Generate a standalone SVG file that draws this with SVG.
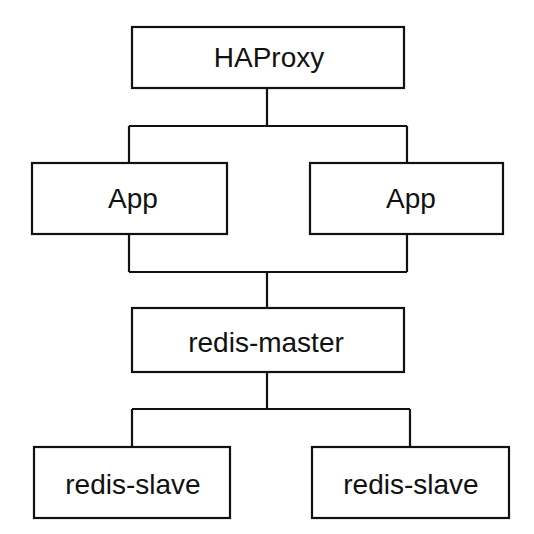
<svg xmlns="http://www.w3.org/2000/svg" width="534" height="534" viewBox="0 0 534 534">
<style>
.box{fill:#fff;stroke:#111;stroke-width:2.2}
.lbl{font-family:"Liberation Sans",Arial,sans-serif;font-size:28px;fill:#111;text-anchor:middle}
.conn{fill:none;stroke:#111;stroke-width:2.2}
</style>
<rect width="534" height="534" fill="#fff"/>
<g id="connectors">
<path class="conn" d="M267 88V126M129 126H407M129 126V163M407 126V163"/>
<path class="conn" d="M129 234V272M407 234V272M129 272H407M267 272V308"/>
<path class="conn" d="M267 372V409M132 409H410M132 409V447M410 409V447"/>
</g>
<g id="haproxy"><rect class="box" x="132" y="27" width="272" height="61"/><text class="lbl" x="269" y="67">HAProxy</text></g>
<g id="app1"><rect class="box" x="32" y="163" width="195" height="71"/><text class="lbl" x="133" y="208">App</text></g>
<g id="app2"><rect class="box" x="310" y="163" width="193" height="71"/><text class="lbl" x="411" y="208">App</text></g>
<g id="redis-master"><rect class="box" x="132" y="308" width="272" height="64"/><text class="lbl" x="266" y="352">redis-master</text></g>
<g id="redis-slave1"><rect class="box" x="34" y="447" width="196" height="71"/><text class="lbl" x="133" y="494">redis-slave</text></g>
<g id="redis-slave2"><rect class="box" x="312" y="447" width="197" height="71"/><text class="lbl" x="411" y="494">redis-slave</text></g>
</svg>
